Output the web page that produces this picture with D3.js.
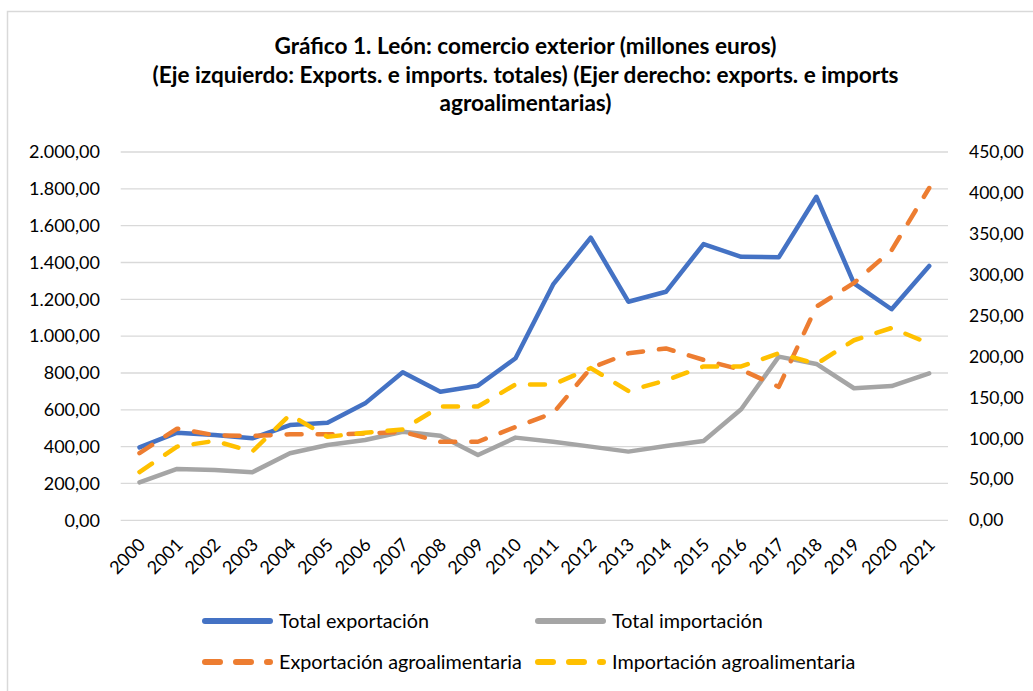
<!DOCTYPE html>
<html><head><meta charset="utf-8">
<script src="https://cdnjs.cloudflare.com/ajax/libs/d3/7.8.5/d3.min.js"></script>
<style>
html,body{margin:0;padding:0;background:#fff;}
svg{display:block;font-family:Lato, "Open Sans", sans-serif;}
</style></head>
<body>
<svg id="chart" width="1033" height="691"></svg>
<script>
const years = ["2000","2001","2002","2003","2004","2005","2006","2007","2008","2009","2010","2011","2012","2013","2014","2015","2016","2017","2018","2019","2020","2021"];
const totalExport = [396,476,463,445,517,530,635,804,698,731,880,1281,1535,1187,1241,1500,1431,1428,1757,1287,1146,1381];
const totalImport = [206,279,273,261,364,409,436,481,459,355,449,427,400,373,403,431,603,889,849,717,729,798];
const agroExport = [82,112,104,103,105,105,106,108,96,96,114,131,186,204,210,196,184,163,261,290,330,406];
const agroImport = [59,90,97,84,129,102,107,111,139,139,166,166,186,158,171,188,188,204,191,220,235,216];
const leftTicks = [0,200,400,600,800,1000,1200,1400,1600,1800,2000];
const rightTicks = [0,50,100,150,200,250,300,350,400,450];
const titleLines = ["Gráfico 1. León: comercio exterior (millones euros)","(Eje izquierdo: Exports. e imports. totales) (Ejer derecho: exports. e imports","agroalimentarias)"];
const seriesNames = ["Total exportación","Total importación","Exportación agroalimentaria","Importación agroalimentaria"];

const svg = d3.select("#chart");
const fmt = v => {
  const s = v.toFixed(2).replace(".", ",");
  const [i, d] = s.split(",");
  return i.replace(/\B(?=(\d{3})+(?!\d))/g, ".") + "," + d;
};

// border
svg.append("rect").attr("x",7.5).attr("y",11.5).attr("width",1100).attr("height",800)
  .attr("fill","none").attr("stroke","#d9d9d9").attr("stroke-width",1.5);

const x = d3.scalePoint().domain(years).range([120.7, 948]).padding(0.5);
const yL = d3.scaleLinear().domain([0,2000]).range([520.3,152]);
const yR = d3.scaleLinear().domain([0,450]).range([520.3,152]);

// title
const title = svg.append("g").attr("font-weight","bold").attr("font-size",22.6).attr("fill","#000").attr("text-anchor","middle");
titleLines.forEach((t,i)=>{
  title.append("text").attr("x",525.5).attr("y",54 + i*28.5).text(t);
});

// grid
svg.append("g").selectAll("line").data(leftTicks).join("line")
  .attr("x1",120.7).attr("x2",948).attr("y1",d=>yL(d)).attr("y2",d=>yL(d))
  .attr("stroke","#d9d9d9").attr("stroke-width",1.3);

// left axis labels
const axL = svg.append("g").attr("transform","translate(100,0)")
  .call(d3.axisLeft(yL).tickValues(leftTicks).tickFormat(fmt).tickSize(0).tickPadding(0));
axL.select(".domain").remove();
axL.selectAll("text").attr("font-size",18).attr("font-family","Lato").attr("fill","#000");

const axR = svg.append("g").attr("transform","translate(969,0)")
  .call(d3.axisRight(yR).tickValues(rightTicks).tickFormat(fmt).tickSize(0).tickPadding(0));
axR.select(".domain").remove();
axR.selectAll("text").attr("font-size",17.5).attr("font-family","Lato").attr("fill","#000");

// x axis labels
const axX = svg.append("g").attr("transform","translate(0,520.3)")
  .call(d3.axisBottom(x).tickSize(0).tickPadding(0));
axX.select(".domain").remove();
axX.selectAll("text").attr("font-size",18).attr("font-family","Lato").attr("fill","#000")
  .attr("text-anchor","end").attr("dy","0.35em")
  .attr("transform","translate(2,21) rotate(-45)");

const series = [
  {name:seriesNames[0], data:totalExport, y:yL, color:"#4472C4", dash:null},
  {name:seriesNames[1], data:totalImport, y:yL, color:"#A5A5A5", dash:null},
  {name:seriesNames[2], data:agroExport, y:yR, color:"#ED7D31", dash:"15,16"},
  {name:seriesNames[3], data:agroImport, y:yR, color:"#FFC000", dash:"15,16"}
];

series.forEach(s=>{
  const line = d3.line().x((d,i)=>x(years[i])).y(d=>s.y(d));
  svg.append("path").datum(s.data).attr("d",line)
    .attr("fill","none").attr("stroke",s.color).attr("stroke-width",4.5)
    .attr("stroke-linejoin","round").attr("stroke-linecap","round")
    .attr("stroke-dasharray",s.dash);
});

// legend
const legPos = [[202,621],[535,621],[202,662],[535,662]];
series.forEach((s,i)=>{
  const [lx,ly] = legPos[i];
  const g = svg.append("g");
  g.append("line").attr("x1",lx+3).attr("x2",lx+68).attr("y1",ly).attr("y2",ly)
    .attr("stroke",s.color).attr("stroke-width",6).attr("stroke-linecap","round")
    .attr("stroke-dasharray",s.dash);
  g.append("text").attr("x",lx+77).attr("y",ly).attr("dy","0.35em")
    .attr("font-size",19.8).attr("fill","#000").text(s.name);
});
</script>
</body></html>
